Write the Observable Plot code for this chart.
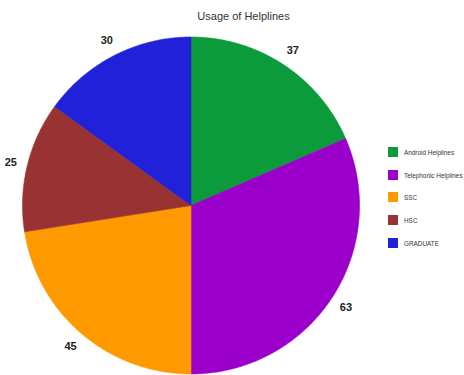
<!DOCTYPE html>
<html>
<head>
<meta charset="utf-8">
<script src="https://cdn.jsdelivr.net/npm/d3@7"></script>
<script src="https://cdn.jsdelivr.net/npm/@observablehq/plot@0.6"></script>
<style>
  html, body { margin: 0; padding: 0; background: #fff; }
  #wrap { position: relative; width: 464px; height: 375px; overflow: hidden; font-family: "Liberation Sans", Arial, sans-serif; }
  #legend { position: absolute; left: 388px; top: 141px; }
  .row { display: flex; align-items: center; height: 22.6px; }
  .sw { width: 10px; height: 10px; margin-right: 6px; flex: none; }
  .lab { font-size: 6.4px; color: #333; white-space: nowrap; margin-top: 1px; }
</style>
</head>
<body>
<div id="wrap"></div>
<script>
const title = "Usage of Helplines";
const categories = ["Android Helplines", "Telephonic Helplines", "SSC", "HSC", "GRADUATE"];
const values = [37, 63, 45, 25, 30];
const colors = ["#0b9b3a", "#9a00c9", "#ff9900", "#993333", "#2121d9"];

const data = categories.map((c, i) => ({category: c, value: values[i]}));
const arcs = d3.pie().sort(null).value(d => d.value)(data);

// slice polygons in unit-radius coordinates (angle clockwise from top)
const slicePts = [];
for (const a of arcs) {
  const n = Math.max(2, Math.ceil((a.endAngle - a.startAngle) / (Math.PI / 360)));
  slicePts.push({category: a.data.category, x: 0, y: 0});
  for (let k = 0; k <= n; k++) {
    const t = a.startAngle + (a.endAngle - a.startAngle) * k / n;
    slicePts.push({category: a.data.category, x: Math.sin(t), y: Math.cos(t)});
  }
  slicePts.push({category: a.data.category, x: 0, y: 0});
}
const labelR = 1.1;
const labels = arcs.map(a => {
  const m = (a.startAngle + a.endAngle) / 2;
  return {text: String(a.data.value), x: labelR * Math.sin(m), y: labelR * Math.cos(m)};
});

const chart = Plot.plot({
  width: 464,
  height: 375,
  margin: 0,
  style: {fontFamily: "'Liberation Sans', Arial, sans-serif", background: "#fff", overflow: "visible"},
  x: {domain: [-1, 1], range: [22, 359], axis: null},
  y: {domain: [-1, 1], range: [373.5, 36.5], axis: null},
  color: {type: "ordinal", domain: categories, range: colors},
  marks: [
    Plot.line(slicePts, {x: "x", y: "y", z: "category", fill: "category", stroke: "category", strokeWidth: 0.6, curve: "linear"}),
    Plot.text(labels, {x: "x", y: "y", text: "text", fontSize: 11, fontWeight: "bold", fill: "#222"}),
    Plot.text([title], {frameAnchor: "top", dx: 11, dy: 12, fontSize: 11, fill: "#333"})
  ]
});

const wrap = document.getElementById("wrap");
wrap.appendChild(chart);

const legend = d3.select(wrap).append("div").attr("id", "legend");
const rows = legend.selectAll(".row").data(categories).join("div").attr("class", "row");
rows.append("div").attr("class", "sw").style("background", (d, i) => colors[i]);
rows.append("div").attr("class", "lab").text(d => d);
</script>
</body>
</html>
